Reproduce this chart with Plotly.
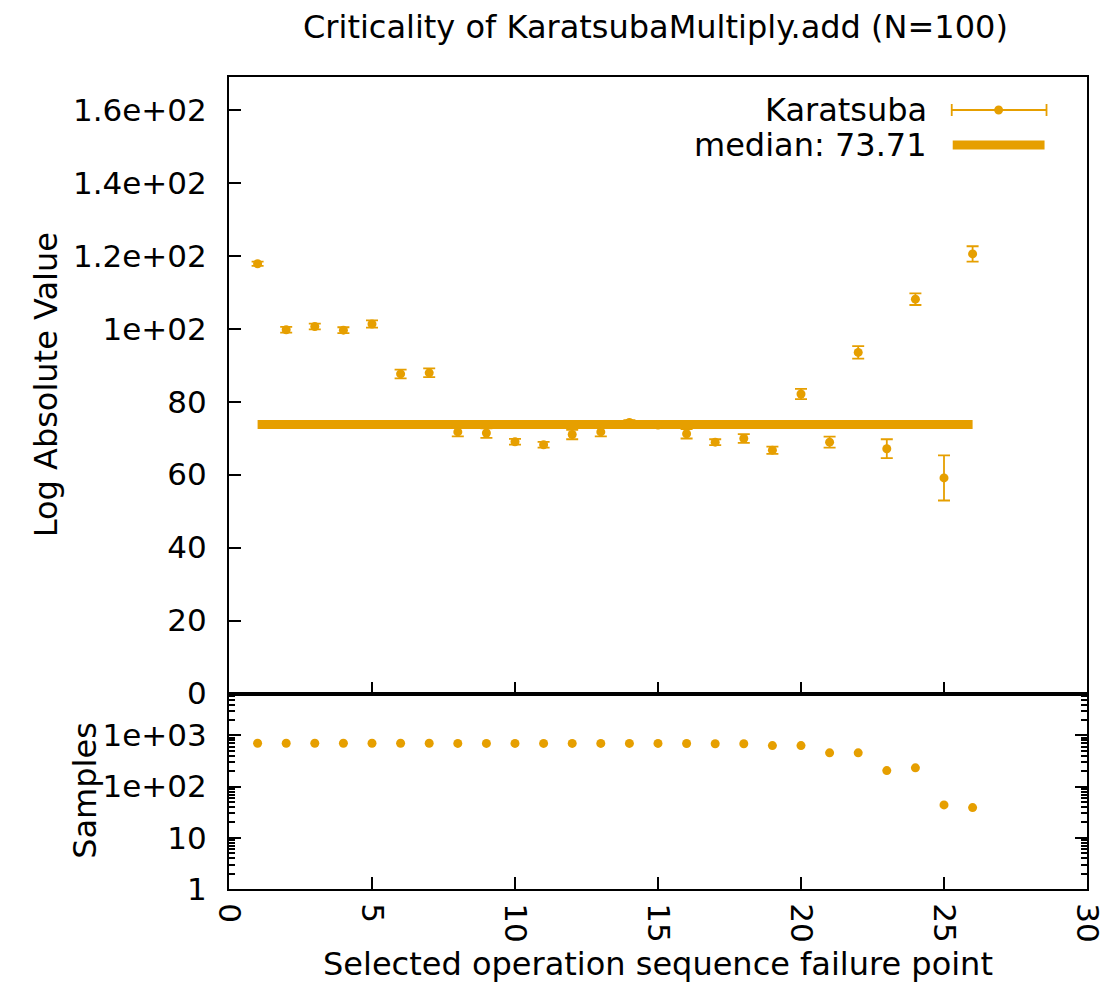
import plotly.graph_objects as go

# Failure point index along the operation sequence
failure_point = list(range(1, 27))

# Mean log absolute value per failure point, with its error half-width
log_abs_value = [117.8, 99.7, 100.6, 99.6, 101.3, 87.6, 87.9, 71.7, 71.4, 69.0,
                 68.2, 71.0, 71.7, 74.3, 73.6, 71.2, 68.9, 69.9, 66.7, 82.1,
                 68.9, 93.5, 67.1, 108.1, 59.1, 120.5]
log_abs_error = [0.6, 0.8, 0.8, 0.8, 1.0, 1.2, 1.2, 1.2, 1.3, 0.8,
                 0.8, 1.3, 1.2, 0.6, 0.8, 1.3, 0.8, 1.2, 1.0, 1.4,
                 1.5, 1.7, 2.6, 1.6, 6.2, 2.1]

# Number of samples behind each failure point
samples = [705, 705, 705, 705, 705, 705, 705, 700, 700, 700,
           700, 700, 700, 700, 700, 695, 690, 690, 635, 635,
           458, 458, 206, 233, 44, 39]

median_value = 73.71

upper_ticks = [0, 20, 40, 60, 80, 100, 120, 140, 160]
upper_ticktext = ["0", "20", "40", "60", "80", "1e+02", "1.2e+02", "1.4e+02", "1.6e+02"]
lower_ticks = [1, 10, 100, 1000]
lower_ticktext = ["1", "10", "1e+02", "1e+03"]
lower_minor = [m * d for d in (1, 10, 100, 1000) for m in range(2, 10)]
x_ticks = [0, 5, 10, 15, 20, 25, 30]

ORANGE = "#E69F00"
FONT = "DejaVu Sans"
FS = 31

# plot-area geometry (pixels)
W, H = 1118, 982
L, R, T, B = 229, 20, 77, 93
PW, PH = W - L - R, H - T - B


def px(x):
    return (x - L) / PW


def py(y):
    return (H - B - y) / PH


split = py(693.5)

fig = go.Figure()

# median line
fig.add_trace(go.Scatter(
    x=[failure_point[0], failure_point[-1]], y=[median_value, median_value],
    mode="lines", line=dict(color=ORANGE, width=9),
    xaxis="x", yaxis="y", showlegend=False, hoverinfo="skip"))

# mean values with error bars
fig.add_trace(go.Scatter(
    x=failure_point, y=log_abs_value, mode="markers",
    marker=dict(color=ORANGE, size=9, line=dict(width=0)),
    error_y=dict(type="data", array=log_abs_error, visible=True,
                 color=ORANGE, thickness=1.8, width=6),
    xaxis="x", yaxis="y", showlegend=False))

# sample counts (log scale)
fig.add_trace(go.Scatter(
    x=failure_point, y=samples, mode="markers",
    marker=dict(color=ORANGE, size=9, line=dict(width=0)),
    xaxis="x2", yaxis="y2", showlegend=False))

axis_common = dict(showline=True, linecolor="black", linewidth=2, mirror=True,
                   ticks="inside", tickcolor="black", tickwidth=1.5,
                   showgrid=False, zeroline=False,
                   tickfont=dict(family=FONT, size=FS, color="black"))

fig.update_layout(
    width=W, height=H,
    margin=dict(l=L, r=R, t=T, b=B),
    paper_bgcolor="white", plot_bgcolor="white",
    showlegend=False,
    xaxis=dict(domain=[0, 1], anchor="y", range=[0, 30], tickvals=x_ticks,
               showticklabels=False, ticklen=12, **axis_common),
    yaxis=dict(domain=[split, 1], anchor="x", range=[0, 169],
               tickvals=upper_ticks, ticktext=upper_ticktext, ticklen=12,
               ticklabelstandoff=14, **axis_common),
    xaxis2=dict(domain=[0, 1], anchor="y2", range=[0, 30], tickvals=x_ticks,
                tickangle=90, ticklen=12, ticklabelstandoff=6, **axis_common),
    yaxis2=dict(domain=[0, split], anchor="x2", type="log", range=[0, 3.82],
                tickvals=lower_ticks, ticktext=lower_ticktext, ticklen=12,
                ticklabelstandoff=14,
                minor=dict(ticks="inside", ticklen=6, tickcolor="black",
                           tickvals=lower_minor),
                **axis_common),
    # right-hand copy of the sample axis for the mirrored minor ticks
    yaxis3=dict(domain=[0, split], anchor="x2", overlaying="y2", side="right",
                type="log", range=[0, 3.82], tickvals=lower_ticks,
                showticklabels=False, ticks="inside", ticklen=12,
                tickcolor="black", tickwidth=1.5, showgrid=False,
                zeroline=False, showline=False,
                minor=dict(ticks="inside", ticklen=6, tickcolor="black",
                           tickvals=lower_minor)),
)

# invisible trace to attach the right-hand axis
fig.add_trace(go.Scatter(x=[failure_point[0]], y=[samples[0]], mode="markers",
                         marker=dict(opacity=0), xaxis="x2", yaxis="y3",
                         showlegend=False, hoverinfo="skip"))

TS = 32
annotations = [
    dict(text="Criticality of KaratsubaMultiply.add (N=100)", x=px(661), y=py(27),
         font=dict(size=TS)),
    dict(text="Log Absolute Value", x=px(44), y=py(385), textangle=-90,
         font=dict(size=TS)),
    dict(text="Samples", x=px(83), y=py(790), textangle=-90, font=dict(size=TS)),
    dict(text="Selected operation sequence failure point", x=px(663), y=py(964),
         font=dict(size=TS)),
    dict(text="Karatsuba", x=px(938), y=py(110), xanchor="right", font=dict(size=TS)),
    dict(text="median: %.2f" % median_value, x=px(938), y=py(145), xanchor="right",
         font=dict(size=TS)),
]
for a in annotations:
    a.setdefault("xanchor", "center")
    a.update(xref="paper", yref="paper", yanchor="middle", showarrow=False)
    a["font"].update(family=FONT, color="black")
fig.update_layout(annotations=annotations)

# legend samples
shapes = [
    dict(type="line", x0=px(961), x1=px(1057), y0=py(110), y1=py(110),
         line=dict(color=ORANGE, width=1.8)),
    dict(type="line", x0=px(961), x1=px(961), y0=py(104), y1=py(116),
         line=dict(color=ORANGE, width=1.8)),
    dict(type="line", x0=px(1057), x1=px(1057), y0=py(104), y1=py(116),
         line=dict(color=ORANGE, width=1.8)),
    dict(type="circle", x0=px(1004), x1=px(1013), y0=py(105.5), y1=py(114.5),
         fillcolor=ORANGE, line=dict(width=0)),
    dict(type="line", x0=px(962), x1=px(1055), y0=py(145), y1=py(145),
         line=dict(color=ORANGE, width=9)),
]
for s in shapes:
    s.update(xref="paper", yref="paper")
fig.update_layout(shapes=shapes)

fig.write_html("out.html")
